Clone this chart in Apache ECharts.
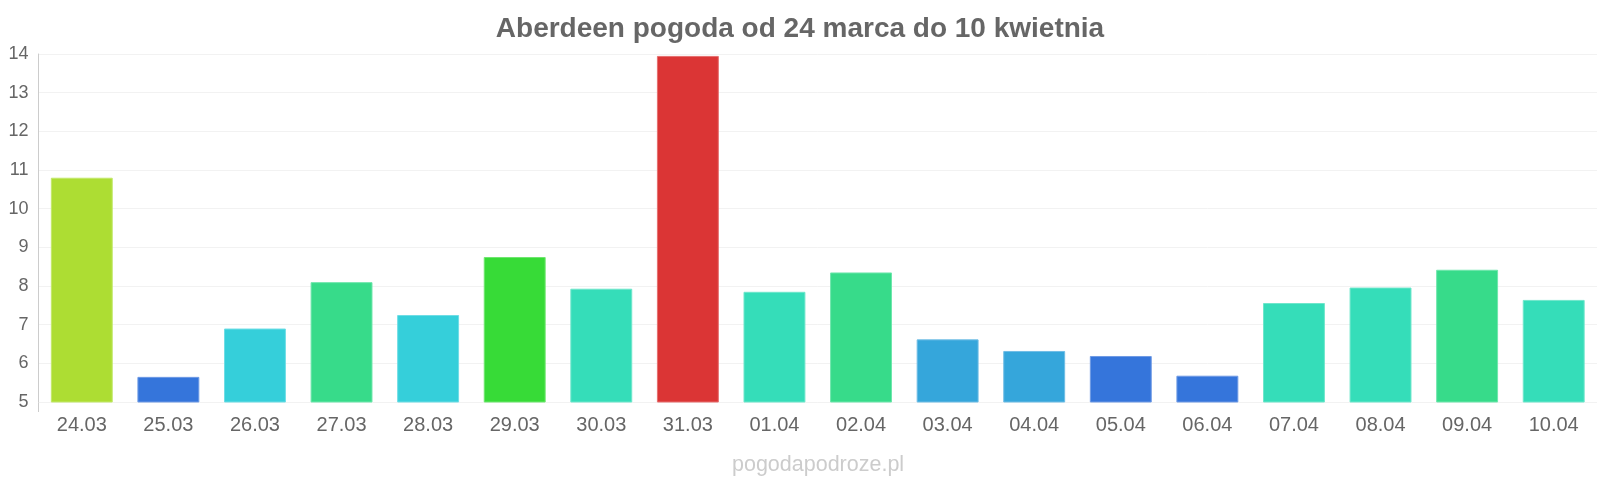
<!DOCTYPE html>
<html>
<head>
<meta charset="utf-8">
<script src="https://cdn.jsdelivr.net/npm/echarts@6/dist/echarts.min.js"></script>
<style>
  html, body { margin: 0; padding: 0; background: #fff; }
  #chart { width: 1600px; height: 480px; }
</style>
</head>
<body>
<div id="chart"></div>
<script>
const titleText = 'Aberdeen pogoda od 24 marca do 10 kwietnia';
const watermark = 'pogodapodroze.pl';
const categories = ['24.03','25.03','26.03','27.03','28.03','29.03','30.03','31.03','01.04','02.04','03.04','04.04','05.04','06.04','07.04','08.04','09.04','10.04'];
const temps = [10.8, 5.65, 6.9, 8.1, 7.25, 8.75, 7.93, 13.95, 7.85, 8.35, 6.62, 6.32, 6.19, 5.68, 7.56, 7.96, 8.42, 7.64];
const barColors = ['#addd33','#3575db','#35cfda','#37db8a','#35cfda','#37db37','#35ddb9','#db3535','#35ddb9','#37db8a','#35a6db','#35a6db','#3575db','#3575db','#35ddb9','#35ddb9','#37db8a','#35ddb9'];
const borderColors = ['#c2e86a','#6f9ae4','#6fdde5','#6fe6ac','#6fdde5','#6fe66f','#6fe6cb','#e66f6f','#6fe6cb','#6fe6ac','#6fbde5','#6fbde5','#6f9ae4','#6f9ae4','#6fe6cb','#6fe6cb','#6fe6ac','#6fe6cb'];
const yTicks = { min: 5, max: 14, interval: 1 };

const chart = echarts.init(document.getElementById('chart'), null, { renderer: 'canvas' });
const font = 'Liberation Sans, Arial, sans-serif';
chart.setOption({
  animation: false,
  backgroundColor: '#ffffff',
  title: {
    text: titleText,
    left: 'center',
    top: 10,
    textStyle: { fontFamily: font, fontSize: 28, fontWeight: 'bold', color: '#666666' }
  },
  graphic: [
    { type: 'text', left: 732, top: 454, style: { text: watermark, fontFamily: font, fontSize: 21.5, fill: '#cccccc' } },
    { type: 'line', shape: { x1: 38.5, y1: 402, x2: 38.5, y2: 412 }, style: { stroke: '#cccccc', lineWidth: 1 } }
  ],
  grid: { left: 38.5, right: 3, top: 54, bottom: 78 },
  xAxis: {
    type: 'category',
    data: categories,
    axisLine: { show: false },
    axisTick: { show: false },
    axisLabel: { fontFamily: font, fontSize: 20, color: '#666666', margin: 13 }
  },
  yAxis: {
    type: 'value',
    min: yTicks.min, max: yTicks.max, interval: yTicks.interval,
    axisLine: { show: true, lineStyle: { color: '#cccccc' } },
    axisTick: { show: false },
    splitLine: { lineStyle: { color: '#f2f2f2' } },
    axisLabel: { fontFamily: font, fontSize: 18, color: '#666666', margin: 10 }
  },
  series: [{
    type: 'bar',
    barCategoryGap: '28.5%',
    data: temps.map((v, i) => ({
      value: v,
      itemStyle: { color: barColors[i], borderColor: borderColors[i], borderWidth: 1 }
    }))
  }]
});
</script>
</body>
</html>
